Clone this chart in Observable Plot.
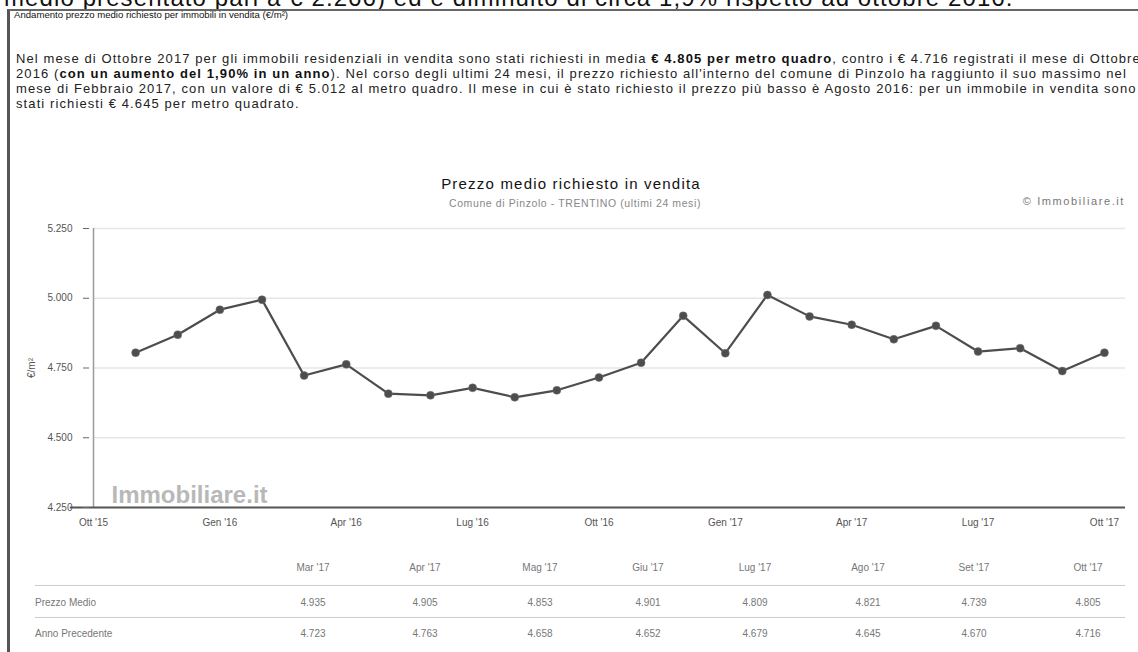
<!DOCTYPE html>
<html><head><meta charset="utf-8">
<script src="https://cdn.jsdelivr.net/npm/d3@7"></script>
<script src="https://cdn.jsdelivr.net/npm/@observablehq/plot@0.6"></script>
<style>
html,body{margin:0;padding:0;background:#fff;width:1138px;height:652px;overflow:hidden;font-family:"Liberation Sans",Arial,sans-serif;}
#page{position:relative;width:1138px;height:652px;overflow:hidden;}
.abs{position:absolute;white-space:nowrap;}
#top{left:4px;top:-16px;font-size:24px;line-height:28px;color:#111;letter-spacing:1.1px;}
#box{left:7px;top:9px;width:1140px;height:660px;border-top:2px solid #666;border-left:3px solid #555;box-sizing:border-box;background:#fff;}
#boxtitle{left:14px;top:9px;font-size:9.6px;color:#111;}
#para{left:16px;top:51px;font-size:13px;line-height:15px;color:#222;letter-spacing:1.1px;}
#para b{color:#111;}
#ctitle{left:0;width:1142px;text-align:center;top:175px;font-size:15px;color:#111;letter-spacing:1.2px;}
#csub{left:0;width:1150px;text-align:center;top:197px;font-size:10.5px;color:#888;letter-spacing:0.6px;}
#credit{right:13px;top:195px;font-size:11px;color:#777;letter-spacing:1.6px;}
#chart{position:absolute;left:0;top:210px;}
.cell{position:absolute;font-size:10px;color:#777;white-space:nowrap;transform:translateX(-50%);}
.lab{position:absolute;font-size:10px;color:#777;white-space:nowrap;}
.hl{position:absolute;left:35px;width:1090px;height:1px;background:#ccc;}
</style></head>
<body><div id="page">
<div id="top" class="abs">medio presentato pari a € 2.266) ed è diminuito di circa 1,9% rispetto ad ottobre 2016.</div>
<div id="box" class="abs"></div>
<div id="boxtitle" class="abs">Andamento prezzo medio richiesto per immobili in vendita (€/m²)</div>
<div id="para" class="abs">Nel mese di Ottobre 2017 per gli immobili residenziali in vendita sono stati richiesti in media <b>€ 4.805 per metro quadro</b>, contro i € 4.716 registrati il mese di Ottobre<br>2016 (<b>con un aumento del 1,90% in un anno</b>). Nel corso degli ultimi 24 mesi, il prezzo richiesto all'interno del comune di Pinzolo ha raggiunto il suo massimo nel<br>mese di Febbraio 2017, con un valore di € 5.012 al metro quadro. Il mese in cui è stato richiesto il prezzo più basso è Agosto 2016: per un immobile in vendita sono<br>stati richiesti € 4.645 per metro quadrato.</div>
<div id="ctitle" class="abs">Prezzo medio richiesto in vendita</div>
<div id="csub" class="abs">Comune di Pinzolo - TRENTINO (ultimi 24 mesi)</div>
<div id="credit" class="abs">© Immobiliare.it</div>
<div id="chart"></div>
<div id="table"></div>
</div>
<script>
// Monthly asking price (€/m²), Nov 2015 – Oct 2017
const months = ["Nov '15","Dic '15","Gen '16","Feb '16","Mar '16","Apr '16","Mag '16","Giu '16","Lug '16","Ago '16","Set '16","Ott '16",
                "Nov '16","Dic '16","Gen '17","Feb '17","Mar '17","Apr '17","Mag '17","Giu '17","Lug '17","Ago '17","Set '17","Ott '17"];
const prices = [4805,4869,4959,4995,4723,4763,4658,4652,4679,4645,4670,4716,
                4769,4937,4803,5012,4935,4905,4853,4901,4809,4821,4739,4805];
// x axis ticks (month index from Oct 2015 = 0)
const xTickIndex = [0,3,6,9,12,15,18,21,24];
const xTickLabels = ["Ott '15","Gen '16","Apr '16","Lug '16","Ott '16","Gen '17","Apr '17","Lug '17","Ott '17"];
const yTicks = [4250,4500,4750,5000,5250];
// table below the chart
const tableMonths = ["Mar '17","Apr '17","Mag '17","Giu '17","Lug '17","Ago '17","Set '17","Ott '17"];
const rowLabels = ["Prezzo Medio","Anno Precedente"];
const rowCurrent = [4935,4905,4853,4901,4809,4821,4739,4805];
const rowPrevious = [4723,4763,4658,4652,4679,4645,4670,4716];

const fmt = d => d3.format(",")(d).replace(/,/g,".");
const data = prices.map((v,i)=>({i:i+1, v, m:months[i]}));

const chart = Plot.plot({
  width:1138, height:330,
  marginLeft:93, marginRight:13, marginTop:18, marginBottom:33,
  style:{fontFamily:"Liberation Sans, Arial, sans-serif", fontSize:"9.5px", color:"#444", background:"transparent"},
  x:{domain:[0,24.5], label:null},
  y:{domain:[4250,5250], label:null},
  marks:[
    Plot.ruleY(yTicks.slice(1), {x1:0, x2:24.5, stroke:"#e6e6e6", strokeWidth:1.5}),
    Plot.ruleX([0], {y1:4250, y2:5250, stroke:"#9a9a9a", strokeWidth:1.5}),
    Plot.ruleY([4250], {x1:-0.55, x2:24.5, stroke:"#555", strokeWidth:2}),
    Plot.axisY({ticks:yTicks, tickFormat:fmt, tickSize:6, tickPadding:11, dx:-4, stroke:"#666", fill:"#555",
      label:"€/m²", labelAnchor:"center", labelOffset:66, labelArrow:"none", fontSize:10}),
    Plot.axisX({ticks:xTickIndex, tickFormat:i=>xTickLabels[xTickIndex.indexOf(i)], tickSize:0, tickPadding:11, fill:"#555", label:null, fontSize:10}),
    Plot.text(["Immobiliare.it"], {frameAnchor:"bottom-left", dx:18, dy:-5, fontSize:24, fontWeight:"bold", fill:"#b8b8b8", textAnchor:"start"}),
    Plot.line(data, {x:"i", y:"v", stroke:"#4d4d4d", strokeWidth:2.2}),
    Plot.dot(data, {x:"i", y:"v", r:4, fill:"#4d4d4d", stroke:"#777", strokeWidth:0.5})
  ]
});
document.getElementById("chart").appendChild(chart);

// table
const tbl = document.getElementById("table");
const colX = [313,425,540,648,755,868,974,1088];
const rowY = [562,597,628];
tableMonths.forEach((m,k)=>{const d=document.createElement("div");d.className="cell";d.style.left=colX[k]+"px";d.style.top=rowY[0]+"px";d.textContent=m;tbl.appendChild(d);});
[rowCurrent,rowPrevious].forEach((row,r)=>{
  const l=document.createElement("div");l.className="lab";l.style.left="35px";l.style.top=rowY[r+1]+"px";l.textContent=rowLabels[r];tbl.appendChild(l);
  row.forEach((v,k)=>{const d=document.createElement("div");d.className="cell";d.style.left=colX[k]+"px";d.style.top=rowY[r+1]+"px";d.textContent=fmt(v);tbl.appendChild(d);});
});
[585,617].forEach(y=>{const h=document.createElement("div");h.className="hl";h.style.top=y+"px";tbl.appendChild(h);});
</script>
</body></html>
